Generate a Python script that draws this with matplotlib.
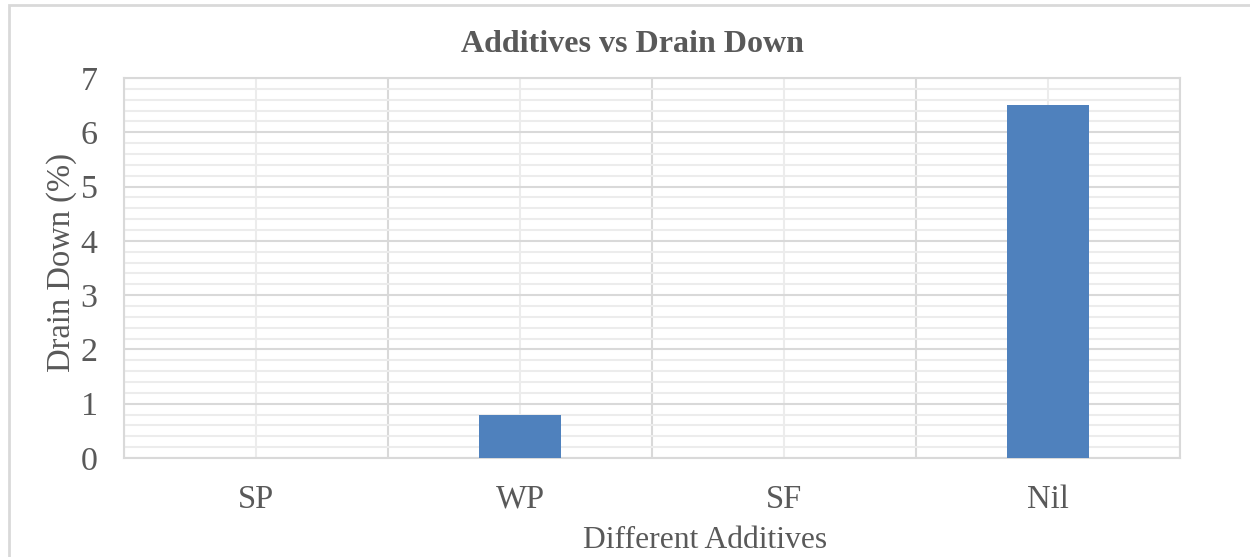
import matplotlib
matplotlib.use("Agg")
import matplotlib.pyplot as plt
from matplotlib.patches import Rectangle
from matplotlib.ticker import MultipleLocator
import numpy as np

# Chart data
additives = ["SP", "WP", "SF", "Nil"]
drain_down = [0, 0.8, 0, 6.5]

plt.rcParams['font.family'] = ['Liberation Serif', 'DejaVu Serif']
text_col = '#595959'
bar_col = '#4f81bd'

W, H = 1250, 557
fig = plt.figure(figsize=(W / 100, H / 100), dpi=100)

# plot area in pixels: left 124, right 1180, top 78, bottom 458
ax = fig.add_axes([124 / W, 1 - 458 / H, (1180 - 124) / W, (458 - 78) / H])

x = np.arange(len(additives))
ax.bar(x, drain_down, width=0.31, color=bar_col, zorder=3)

ax.set_xlim(-0.5, len(additives) - 0.5)
ax.set_ylim(0, 7)
ax.set_xticks(x)
ax.set_xticklabels(additives)
ax.xaxis.set_minor_locator(MultipleLocator(1, offset=0.5))
ax.yaxis.set_major_locator(MultipleLocator(1))
ax.yaxis.set_minor_locator(MultipleLocator(0.2))

ax.tick_params(which='both', length=0)
ax.tick_params(axis='x', labelsize=23.5, colors=text_col, pad=19)
ax.tick_params(axis='y', labelsize=24.5, colors=text_col, pad=19)

ax.yaxis.grid(True, which='major', color='#d9d9d9', lw=1.5, zorder=0)
ax.yaxis.grid(True, which='minor', color='#ececec', lw=1.5, zorder=0)
ax.xaxis.grid(True, which='minor', color='#d9d9d9', lw=1.5, zorder=0)
ax.xaxis.grid(True, which='major', color='#ececec', lw=1.5, zorder=0)
ax.set_axisbelow(True)

for s in ax.spines.values():
    s.set_color('#d9d9d9')
    s.set_linewidth(1.5)

fig.text(632 / W, 1 - 45 / H, "Additives vs Drain Down", ha='center', va='center',
         fontsize=23, fontweight='bold', color=text_col)
fig.text(705 / W, 1 - 540 / H, "Different Additives", ha='center', va='center',
         fontsize=22.8, color=text_col)
fig.text(62 / W, 1 - 263 / H, "Drain Down (%)", ha='center', va='center',
         rotation=90, fontsize=23.5, color=text_col)

# outer chart border (runs off the right and bottom edges)
fig.add_artist(Rectangle((9 / W, -0.2), 2, 1.2 - 5 / H, transform=fig.transFigure,
                         fill=False, ec='#d9d9d9', lw=2))

fig.savefig("out.png", dpi=100)
